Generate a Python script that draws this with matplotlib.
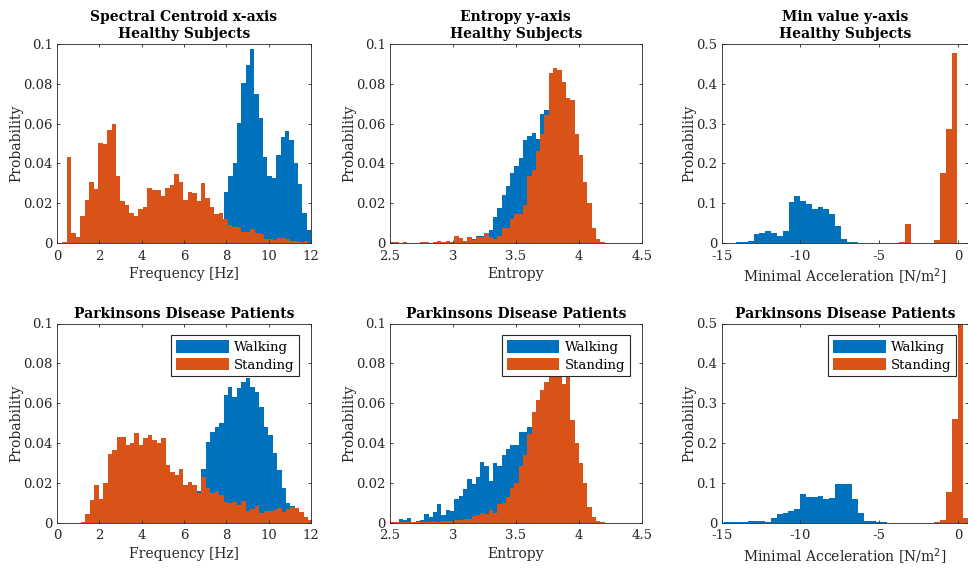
import matplotlib
matplotlib.use('Agg')
import matplotlib.pyplot as plt
import numpy as np

plt.rcParams['font.family'] = ['DejaVu Serif']
plt.rcParams['axes.unicode_minus'] = False

BLUE = '#0072BD'
ORANGE = '#D95319'
GREY = '#262626'

# --- Healthy subjects, spectral centroid x-axis -----------------------------
hc_stand_start, hc_stand_width = 0.252, 0.2113
hc_stand = [0.0007, 0.0433, 0.0052, 0.0029, 0.0136, 0.0215, 0.0306, 0.0273,
            0.0503, 0.0500, 0.0570, 0.0596, 0.0338, 0.0210, 0.0189, 0.0152,
            0.0136, 0.0172, 0.0182, 0.0278, 0.0264, 0.0264, 0.0237, 0.0278,
            0.0293, 0.0348, 0.0305, 0.0215, 0.0256, 0.0251, 0.0210, 0.0301,
            0.0226, 0.0180, 0.0145, 0.0152, 0.0121, 0.0089, 0.0079, 0.0082,
            0.0054, 0.0056, 0.0071, 0.0049, 0.0045, 0.0019, 0.0019, 0.0015,
            0.0024, 0.0024, 0.0019, 0.0008, 0.0008, 0.0005, 0.0008]
hc_walk_start, hc_walk_width = 6.655, 0.2055
hc_walk = [0.001, 0.002, 0.003, 0.005, 0.008, 0.011,
           0.0256, 0.0335, 0.0402, 0.0604, 0.0806, 0.0894, 0.0975, 0.0747,
           0.0630, 0.0433, 0.0335, 0.0327, 0.0444, 0.0534, 0.0562, 0.0520,
           0.0402, 0.0298, 0.0153, 0.0066]

# --- Healthy subjects, entropy y-axis ---------------------------------------
he_start, he_width = 2.5, 0.0341
he_stand = [0.0003, 0.0003, 0.0002, 0.0003, 0.0002, 0.0002, 0.0002, 0.0003,
            0.0003, 0.0002, 0.0003, 0.0008, 0.0005, 0.0008, 0.0003, 0.0035,
            0.0024, 0.0008, 0.0029, 0.0015, 0.0032, 0.0032, 0.0052, 0.0032,
            0.0020, 0.0035, 0.0077, 0.0077, 0.0121, 0.0146, 0.0146, 0.0189,
            0.0335, 0.0369, 0.0461, 0.0550, 0.0645, 0.0852, 0.0877, 0.0870,
            0.0810, 0.0731, 0.0717, 0.0550, 0.0443, 0.0305, 0.0200, 0.0074,
            0.0019, 0.0005]
he_walk_offset = 19
he_walk = [0.002, 0.0035, 0.0035, 0.004, 0.0066, 0.013, 0.0178, 0.0242,
           0.0285, 0.0352, 0.0389, 0.0428, 0.052, 0.054, 0.0554, 0.0524,
           0.0646, 0.0667, 0.055, 0.045, 0.035, 0.025, 0.017, 0.010, 0.006,
           0.003, 0.001]

# --- Healthy subjects, min value y-axis -------------------------------------
hm_width = 0.370
hm_walk_start = -14.09
hm_walk = [0.0025, 0.0034, 0.0059, 0.0218, 0.0260, 0.0302, 0.0260, 0.0184,
           0.0302, 0.1020, 0.1190, 0.1060, 0.0980, 0.0854, 0.0896, 0.0854,
           0.0720, 0.0436, 0.0100, 0.0034, 0.0017, 0.0008, 0.0008, 0.0005]
hm_stand_start = -4.85
hm_stand = [0.001, 0.001, 0.001, 0.0025, 0.0477, 0, 0, 0, 0.0005, 0.0075,
            0.175, 0.286, 0.4765]

# --- Parkinsons patients, spectral centroid ---------------------------------
pc_start, pc_width = 1.134, 0.2105
pc_stand = [0.0005, 0.0044, 0.0114, 0.0189, 0.0119, 0.0197, 0.0345, 0.0365,
            0.0432, 0.0428, 0.0390, 0.0402, 0.0452, 0.0390, 0.0423, 0.0440,
            0.0415, 0.0398, 0.0423, 0.0290, 0.0256, 0.0239, 0.0269, 0.0189,
            0.0206, 0.0189, 0.0147, 0.0231, 0.0172, 0.0147, 0.0159, 0.0139,
            0.0105, 0.0100, 0.0105, 0.0089, 0.0109, 0.0059, 0.0069, 0.0084,
            0.0047, 0.0059, 0.0060, 0.0064, 0.0072, 0.0052, 0.0067, 0.0077,
            0.0072, 0.0055, 0.0030, 0.0013]
pc_walk_offset = 20
pc_walk = [0.002, 0.003, 0.005, 0.007, 0.009, 0.011,
           0.0156, 0.0269, 0.0407, 0.0457, 0.0479, 0.0502, 0.0641, 0.0683,
           0.0633, 0.0674, 0.0708, 0.0725, 0.0683, 0.0658, 0.0582, 0.0482,
           0.0440, 0.0348, 0.0264, 0.0172, 0.0097, 0.0085, 0.0075, 0.0040]

# --- Parkinsons patients, entropy -------------------------------------------
pe_start, pe_width = 2.5, 0.0341
pe_walk = [0.0002, 0.0005, 0.0018, 0.0013, 0.0022, 0.0005, 0.0008, 0.0013,
           0.0042, 0.0030, 0.0052, 0.0094, 0.0038, 0.0064, 0.0059, 0.0117,
           0.0134, 0.0167, 0.0218, 0.0194, 0.0231, 0.0306, 0.0285, 0.0211,
           0.0298, 0.0286, 0.0340, 0.0368, 0.0390, 0.0387, 0.0454, 0.0454,
           0.0479, 0.0450, 0.0400, 0.0350, 0.0280, 0.0220, 0.0160, 0.0110,
           0.0070, 0.0040, 0.0020, 0.0010, 0.0005]
pe_stand = [0.0002, 0.0002, 0.0002, 0.0002, 0.0002, 0.0002, 0.0002, 0.0002,
            0.0002, 0.0003, 0.0003, 0.0005, 0.0007, 0.0007, 0.0008, 0.0013,
            0.0013, 0.0018, 0.0018, 0.0035, 0.0038, 0.0047, 0.0044, 0.0064,
            0.0047, 0.0094, 0.0097, 0.0127, 0.0172, 0.0197, 0.0286, 0.0340,
            0.0445, 0.0557, 0.0616, 0.0666, 0.0708, 0.0733, 0.0741, 0.0733,
            0.0695, 0.0741, 0.0515, 0.0398, 0.0298, 0.0197, 0.0080, 0.0030,
            0.0008, 0.0003]

# --- Parkinsons patients, min value -----------------------------------------
pm_width = 0.370
pm_walk_start = -14.84
pm_walk = [0.0017, 0.0025, 0.0008, 0.0008, 0.0034, 0.0050, 0.0050, 0.0017,
           0.0118, 0.0202, 0.0244, 0.0294, 0.0345, 0.0706, 0.0647, 0.0639,
           0.0672, 0.0580, 0.0622, 0.0958, 0.0966, 0.0958, 0.0580, 0.0227,
           0.0042, 0.0042, 0.0017, 0.0008]
pm_stand_start = -1.51
pm_stand = [0.0017, 0.0059, 0.0773, 0.26, 0.55, 0.0118]


def edges(start, width, n):
    return start + width * np.arange(n + 1)


def hist(ax, vals, start, width, color, label):
    ax.stairs(vals, edges(start, width, len(vals)), fill=True,
              color=color, linewidth=0, label=label)


def style(ax, xlim, xticks, xticklabels, ylim, yticks, yticklabels,
          title, xlabel):
    ax.set_xlim(xlim)
    ax.set_ylim(ylim)
    ax.set_xticks(xticks)
    ax.set_xticklabels(xticklabels)
    ax.set_yticks(yticks)
    ax.set_yticklabels(yticklabels)
    ax.tick_params(direction='in', length=2.5, width=0.6, colors=GREY,
                   labelsize=9.5, top=True, right=True)
    ax.tick_params(axis='x', pad=5)
    ax.tick_params(axis='y', pad=3)
    for s in ax.spines.values():
        s.set_color(GREY)
        s.set_linewidth(0.6)
    ax.set_title(title, fontsize=10, fontweight='bold', pad=4,
                 linespacing=1.3)
    ax.set_xlabel(xlabel, fontsize=10, color=GREY, labelpad=3)
    ax.set_ylabel('Probability', fontsize=10, color=GREY, labelpad=0)


W, H = 968, 569
fig = plt.figure(figsize=(W / 100, H / 100), dpi=100)


def px_axes(left, right, top, bottom):
    return fig.add_axes([left / W, 1 - bottom / H, (right - left) / W,
                         (bottom - top) / H])


rows = [(44, 243), (323.5, 522.5)]
cols = [(57, 311), (390, 641.7), (721.7, 968)]

small_y = [0, 0.02, 0.04, 0.06, 0.08, 0.1]
small_yl = ['0', '0.02', '0.04', '0.06', '0.08', '0.1']
big_y = [0, 0.1, 0.2, 0.3, 0.4, 0.5]
big_yl = ['0', '0.1', '0.2', '0.3', '0.4', '0.5']
freq_x = [0, 2, 4, 6, 8, 10, 12]
freq_xl = ['0', '2', '4', '6', '8', '10', '12']
ent_x = [2.5, 3, 3.5, 4, 4.5]
ent_xl = ['2.5', '3', '3.5', '4', '4.5']
acc_x = [-15, -10, -5, 0]
acc_xl = ['-15', '-10', '-5', '0']

titles_top = ['Spectral Centroid x-axis\nHealthy Subjects',
              'Entropy y-axis\nHealthy Subjects',
              'Min value y-axis\nHealthy Subjects']
title_bottom = 'Parkinsons Disease Patients'
acc_label = r'Minimal Acceleration [N/m$^2$]'

axs = [[px_axes(c[0], c[1], r[0], r[1]) for c in cols] for r in rows]

# top row
ax = axs[0][0]
hist(ax, hc_walk, hc_walk_start, hc_walk_width, BLUE, 'Walking')
hist(ax, hc_stand, hc_stand_start, hc_stand_width, ORANGE, 'Standing')
style(ax, (0, 12), freq_x, freq_xl, (0, 0.1), small_y, small_yl,
      titles_top[0], 'Frequency [Hz]')

ax = axs[0][1]
hist(ax, he_walk, he_start + he_walk_offset * he_width, he_width, BLUE,
     'Walking')
hist(ax, he_stand, he_start, he_width, ORANGE, 'Standing')
style(ax, (2.5, 4.5), ent_x, ent_xl, (0, 0.1), small_y, small_yl,
      titles_top[1], 'Entropy')

ax = axs[0][2]
hist(ax, hm_walk, hm_walk_start, hm_width, BLUE, 'Walking')
hist(ax, hm_stand, hm_stand_start, hm_width, ORANGE, 'Standing')
style(ax, (-15, 0.63), acc_x, acc_xl, (0, 0.5), big_y, big_yl,
      titles_top[2], acc_label)

# bottom row
ax = axs[1][0]
hist(ax, pc_walk, pc_start + pc_walk_offset * pc_width, pc_width, BLUE,
     'Walking')
hist(ax, pc_stand, pc_start, pc_width, ORANGE, 'Standing')
style(ax, (0, 12), freq_x, freq_xl, (0, 0.1), small_y, small_yl,
      title_bottom, 'Frequency [Hz]')

ax = axs[1][1]
hist(ax, pe_walk, pe_start, pe_width, BLUE, 'Walking')
hist(ax, pe_stand, pe_start, pe_width, ORANGE, 'Standing')
style(ax, (2.5, 4.5), ent_x, ent_xl, (0, 0.1), small_y, small_yl,
      title_bottom, 'Entropy')

ax = axs[1][2]
hist(ax, pm_walk, pm_walk_start, pm_width, BLUE, 'Walking')
hist(ax, pm_stand, pm_stand_start, pm_width, ORANGE, 'Standing')
style(ax, (-15, 0.63), acc_x, acc_xl, (0, 0.5), big_y, big_yl,
      title_bottom, acc_label)

for ax in axs[1]:
    leg = ax.legend(loc='upper right', fontsize=9.5, fancybox=False,
                    framealpha=1, edgecolor=GREY, handlelength=4.0,
                    handleheight=1.1, labelspacing=0.3, handletextpad=0.4,
                    borderaxespad=0.9, borderpad=0.35)
    leg.get_frame().set_linewidth(0.8)

fig.savefig('out.png', dpi=100)
